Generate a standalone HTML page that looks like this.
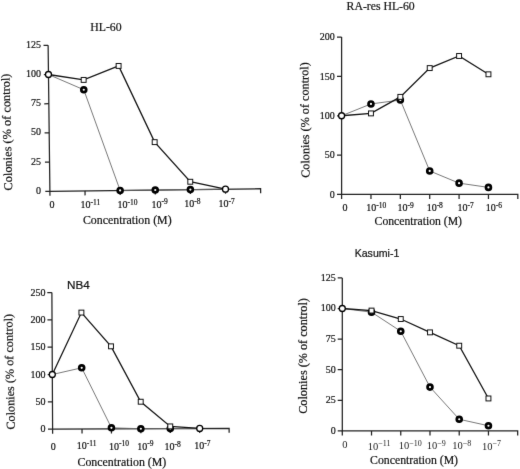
<!DOCTYPE html><html><head><meta charset="utf-8"><style>html,body{margin:0;padding:0;background:#fff;width:520px;height:469px;overflow:hidden}svg{display:block}.t{fill:#111;stroke:#111;stroke-width:0.2px}.t2{fill:#222}</style></head><body>
<svg width="520" height="469" viewBox="0 0 520 469">
<defs><filter id="b" filterUnits="userSpaceOnUse" x="0" y="0" width="520" height="469" color-interpolation-filters="sRGB"><feConvolveMatrix order="3" kernelMatrix="0.0052 0.0619 0.0052 0.0619 0.7314 0.0619 0.0052 0.0619 0.0052" edgeMode="duplicate"/></filter></defs><rect width="520" height="469" fill="#fff"/><g filter="url(#b)">
<g><path d="M48.12 45.31L49.9 191.3L260.6 188.73L260.66 193.23" fill="none" stroke="#222" stroke-width="1.25"/><path d="M45.3 191.36L49.9 191.3M44.94 162.16L49.54 162.1M44.59 132.96L49.19 132.9M44.23 103.76L48.83 103.71M43.87 74.56L48.47 74.51M43.52 45.37L48.12 45.31M49.9 191.3L49.95 195.8M85.02 190.87L85.07 195.37M120.13 190.44L120.19 194.94M155.25 190.01L155.31 194.51M190.37 189.58L190.42 194.08M225.49 189.15L225.54 193.65" fill="none" stroke="#222" stroke-width="1.25"/><text id="p1_y0" x="40.9" y="193.86" text-anchor="end" font-family='"Liberation Serif", serif' font-size="10" class="t">0</text><text id="p1_y25" x="40.9" y="164.66" text-anchor="end" font-family='"Liberation Serif", serif' font-size="10" class="t">25</text><text id="p1_y50" x="40.9" y="135.46" text-anchor="end" font-family='"Liberation Serif", serif' font-size="10" class="t">50</text><text id="p1_y75" x="40.9" y="106.26" text-anchor="end" font-family='"Liberation Serif", serif' font-size="10" class="t">75</text><text id="p1_y100" x="40.9" y="77.06" text-anchor="end" font-family='"Liberation Serif", serif' font-size="10" class="t">100</text><text id="p1_y125" x="40.9" y="47.86" text-anchor="end" font-family='"Liberation Serif", serif' font-size="10" class="t">125</text><text id="p1_x0" x="52.09" y="208.37" text-anchor="middle" font-family='"Liberation Serif", serif' font-size="10" class="t">0</text><text id="p1_x1" x="80.62" y="208.27" font-family='"Liberation Serif", serif' font-size="10" class="t">10<tspan font-size="7.5" dy="-3.3">-11</tspan></text><text id="p1_x2" x="117.42" y="208.06" font-family='"Liberation Serif", serif' font-size="10" class="t">10<tspan font-size="7.5" dy="-3.3">-10</tspan></text><text id="p1_x3" x="151.58" y="207.66" font-family='"Liberation Serif", serif' font-size="10" class="t">10<tspan font-size="7.5" dy="-3.3">-9</tspan></text><text id="p1_x4" x="184.19" y="207.39" font-family='"Liberation Serif", serif' font-size="10" class="t">10<tspan font-size="7.5" dy="-3.3">-8</tspan></text><text id="p1_x5" x="218.55" y="207.31" font-family='"Liberation Serif", serif' font-size="10" class="t">10<tspan font-size="7.5" dy="-3.3">-7</tspan></text><text id="p1_xl" x="82.95" y="223.8" font-family='"Liberation Serif", serif' font-size="12" class="t" textLength="88.66" lengthAdjust="spacingAndGlyphs">Concentration (M)</text><text id="p1_yl" transform="translate(10.86 131.97) rotate(-91.4)" text-anchor="middle" font-family='"Liberation Serif", serif' font-size="12" class="t" textLength="116.92" lengthAdjust="spacingAndGlyphs">Colonies (% of control)</text><text id="p1_t" x="90.24" y="31.48" font-family='"Liberation Serif", serif' font-size="12" class="t" textLength="31.4" lengthAdjust="spacingAndGlyphs">HL-60</text><polyline points="48.47,74.51 83.78,89.73 120.13,190.44 155.25,190.01 190.37,189.58 225.49,189.15" fill="none" stroke="#6a6a6a" stroke-width="0.9"/><polyline points="48.47,74.51 83.66,79.92 118.61,65.94 154.67,142.13 190.27,181.76 225.49,189.15" fill="none" stroke="#151515" stroke-width="1.3"/><circle cx="83.78" cy="89.73" r="2.45" fill="#fff" stroke="#000" stroke-width="2.7"/><circle cx="120.13" cy="190.44" r="2.45" fill="#fff" stroke="#000" stroke-width="2.7"/><circle cx="155.25" cy="190.01" r="2.45" fill="#fff" stroke="#000" stroke-width="2.7"/><circle cx="190.37" cy="189.58" r="2.45" fill="#fff" stroke="#000" stroke-width="2.7"/><rect x="81.21" y="77.47" width="4.9" height="4.9" fill="#fff" stroke="#111" stroke-width="1"/><rect x="116.16" y="63.49" width="4.9" height="4.9" fill="#fff" stroke="#111" stroke-width="1"/><rect x="152.22" y="139.68" width="4.9" height="4.9" fill="#fff" stroke="#111" stroke-width="1"/><rect x="187.82" y="179.31" width="4.9" height="4.9" fill="#fff" stroke="#111" stroke-width="1"/><circle cx="48.47" cy="74.51" r="3.0" fill="#fff" stroke="#000" stroke-width="1.3"/><circle cx="225.49" cy="189.15" r="3.0" fill="#fff" stroke="#000" stroke-width="1.3"/></g>
<g><path d="M341.6 37.1L341.6 194.4L517.82 194.4L517.82 198.9" fill="none" stroke="#222" stroke-width="1.25"/><path d="M337 194.4L341.6 194.4M337 155.08L341.6 155.08M337 115.75L341.6 115.75M337 76.43L341.6 76.43M337 37.1L341.6 37.1M341.6 194.4L341.6 198.9M370.97 194.4L370.97 198.9M400.34 194.4L400.34 198.9M429.71 194.4L429.71 198.9M459.08 194.4L459.08 198.9M488.45 194.4L488.45 198.9" fill="none" stroke="#222" stroke-width="1.25"/><text id="p2_y0" x="334.74" y="197.65" text-anchor="end" font-family='"Liberation Serif", serif' font-size="10" class="t">0</text><text id="p2_y50" x="334.74" y="158.33" text-anchor="end" font-family='"Liberation Serif", serif' font-size="10" class="t">50</text><text id="p2_y100" x="334.74" y="119" text-anchor="end" font-family='"Liberation Serif", serif' font-size="10" class="t">100</text><text id="p2_y150" x="334.74" y="79.68" text-anchor="end" font-family='"Liberation Serif", serif' font-size="10" class="t">150</text><text id="p2_y200" x="334.74" y="40.35" text-anchor="end" font-family='"Liberation Serif", serif' font-size="10" class="t">200</text><text id="p2_x0" x="345.12" y="210.97" text-anchor="middle" font-family='"Liberation Serif", serif' font-size="10" class="t">0</text><text id="p2_x1" x="366.33" y="211.45" font-family='"Liberation Serif", serif' font-size="10" class="t">10<tspan font-size="7.5" dy="-3.3">-10</tspan></text><text id="p2_x2" x="397.5" y="211.34" font-family='"Liberation Serif", serif' font-size="10" class="t">10<tspan font-size="7.5" dy="-3.3">-9</tspan></text><text id="p2_x3" x="426.64" y="211.28" font-family='"Liberation Serif", serif' font-size="10" class="t">10<tspan font-size="7.5" dy="-3.3">-8</tspan></text><text id="p2_x4" x="457.55" y="211.24" font-family='"Liberation Serif", serif' font-size="10" class="t">10<tspan font-size="7.5" dy="-3.3">-7</tspan></text><text id="p2_x5" x="485.7" y="211.3" font-family='"Liberation Serif", serif' font-size="10" class="t">10<tspan font-size="7.5" dy="-3.3">-6</tspan></text><text id="p2_xl" x="374.58" y="225.2" font-family='"Liberation Serif", serif' font-size="12" class="t" textLength="87.45" lengthAdjust="spacingAndGlyphs">Concentration (M)</text><text id="p2_yl" transform="translate(308.83 120.07) rotate(-90.6)" text-anchor="middle" font-family='"Liberation Serif", serif' font-size="12" class="t" textLength="115.56" lengthAdjust="spacingAndGlyphs">Colonies (% of control)</text><text id="p2_t" x="346.58" y="10.32" font-family='"Liberation Serif", serif' font-size="11.5" class="t" textLength="68.11" lengthAdjust="spacingAndGlyphs">RA-res HL-60</text><polyline points="341.6,115.75 370.97,103.95 400.34,100.02 429.71,170.96 459.08,183.15 488.45,187.4" fill="none" stroke="#6a6a6a" stroke-width="0.9"/><polyline points="341.6,115.75 370.97,113.39 400.34,96.87 429.71,68.09 459.08,55.98 488.45,74.3" fill="none" stroke="#151515" stroke-width="1.3"/><circle cx="370.97" cy="103.95" r="2.45" fill="#fff" stroke="#000" stroke-width="2.7"/><circle cx="400.34" cy="100.02" r="2.45" fill="#fff" stroke="#000" stroke-width="2.7"/><circle cx="429.71" cy="170.96" r="2.45" fill="#fff" stroke="#000" stroke-width="2.7"/><circle cx="459.08" cy="183.15" r="2.45" fill="#fff" stroke="#000" stroke-width="2.7"/><circle cx="488.45" cy="187.4" r="2.45" fill="#fff" stroke="#000" stroke-width="2.7"/><rect x="368.52" y="110.94" width="4.9" height="4.9" fill="#fff" stroke="#111" stroke-width="1"/><rect x="397.89" y="94.42" width="4.9" height="4.9" fill="#fff" stroke="#111" stroke-width="1"/><rect x="427.26" y="65.64" width="4.9" height="4.9" fill="#fff" stroke="#111" stroke-width="1"/><rect x="456.63" y="53.53" width="4.9" height="4.9" fill="#fff" stroke="#111" stroke-width="1"/><rect x="486" y="71.85" width="4.9" height="4.9" fill="#fff" stroke="#111" stroke-width="1"/><circle cx="341.6" cy="115.75" r="3.0" fill="#fff" stroke="#000" stroke-width="1.3"/></g>
<g><path d="M51.88 292.5L52.6 429.2L229.12 428.28L229.14 432.78" fill="none" stroke="#222" stroke-width="1.25"/><path d="M48 429.22L52.6 429.2M47.86 401.88L52.46 401.86M47.71 374.54L52.31 374.52M47.57 347.21L52.17 347.18M47.43 319.87L52.03 319.84M47.28 292.53L51.88 292.5M52.6 429.2L52.62 433.7M82.02 429.05L82.04 433.55M111.44 428.89L111.46 433.39M140.86 428.74L140.88 433.24M170.28 428.58L170.3 433.08M199.7 428.43L199.72 432.93" fill="none" stroke="#222" stroke-width="1.25"/><text id="p3_y0" x="45.52" y="432.37" text-anchor="end" font-family='"Liberation Serif", serif' font-size="10" class="t">0</text><text id="p3_y50" x="45.52" y="405.03" text-anchor="end" font-family='"Liberation Serif", serif' font-size="10" class="t">50</text><text id="p3_y100" x="45.52" y="377.69" text-anchor="end" font-family='"Liberation Serif", serif' font-size="10" class="t">100</text><text id="p3_y150" x="45.52" y="350.36" text-anchor="end" font-family='"Liberation Serif", serif' font-size="10" class="t">150</text><text id="p3_y200" x="45.52" y="323.01" text-anchor="end" font-family='"Liberation Serif", serif' font-size="10" class="t">200</text><text id="p3_y250" x="45.52" y="295.68" text-anchor="end" font-family='"Liberation Serif", serif' font-size="10" class="t">250</text><text id="p3_x0" x="53.21" y="449.59" text-anchor="middle" font-family='"Liberation Serif", serif' font-size="10" class="t">0</text><text id="p3_x1" x="76.68" y="449.44" font-family='"Liberation Serif", serif' font-size="10" class="t">10<tspan font-size="7.5" dy="-3.3">-11</tspan></text><text id="p3_x2" x="109.03" y="449.59" font-family='"Liberation Serif", serif' font-size="10" class="t">10<tspan font-size="7.5" dy="-3.3">-10</tspan></text><text id="p3_x3" x="137.33" y="449.75" font-family='"Liberation Serif", serif' font-size="10" class="t">10<tspan font-size="7.5" dy="-3.3">-9</tspan></text><text id="p3_x4" x="164.5" y="449.87" font-family='"Liberation Serif", serif' font-size="10" class="t">10<tspan font-size="7.5" dy="-3.3">-8</tspan></text><text id="p3_x5" x="194.26" y="449.47" font-family='"Liberation Serif", serif' font-size="10" class="t">10<tspan font-size="7.5" dy="-3.3">-7</tspan></text><text id="p3_xl" x="77.47" y="466" font-family='"Liberation Serif", serif' font-size="12" class="t" textLength="88.84" lengthAdjust="spacingAndGlyphs">Concentration (M)</text><text id="p3_yl" transform="translate(13.5 371.74) rotate(-91.36)" text-anchor="middle" font-family='"Liberation Serif", serif' font-size="12" class="t" textLength="115.72" lengthAdjust="spacingAndGlyphs">Colonies (% of control)</text><text id="p3_t" x="67.08" y="288.67" font-family='"Liberation Sans", sans-serif' font-size="11" class="t" textLength="22.79" lengthAdjust="spacingAndGlyphs">NB4</text><polyline points="52.31,374.52 81.7,367.81 111.43,427.8 140.86,428.74 170.28,428.58 199.7,428.43" fill="none" stroke="#6a6a6a" stroke-width="0.9"/><polyline points="52.31,374.52 81.41,312.58 111.01,346.33 140.72,401.73 170.27,426.4 199.7,428.43" fill="none" stroke="#151515" stroke-width="1.3"/><circle cx="81.7" cy="367.81" r="2.45" fill="#fff" stroke="#000" stroke-width="2.7"/><circle cx="111.43" cy="427.8" r="2.45" fill="#fff" stroke="#000" stroke-width="2.7"/><circle cx="140.86" cy="428.74" r="2.45" fill="#fff" stroke="#000" stroke-width="2.7"/><circle cx="170.28" cy="428.58" r="2.45" fill="#fff" stroke="#000" stroke-width="2.7"/><rect x="78.96" y="310.13" width="4.9" height="4.9" fill="#fff" stroke="#111" stroke-width="1"/><rect x="108.56" y="343.88" width="4.9" height="4.9" fill="#fff" stroke="#111" stroke-width="1"/><rect x="138.27" y="399.28" width="4.9" height="4.9" fill="#fff" stroke="#111" stroke-width="1"/><rect x="167.82" y="423.95" width="4.9" height="4.9" fill="#fff" stroke="#111" stroke-width="1"/><circle cx="52.31" cy="374.52" r="3.0" fill="#fff" stroke="#000" stroke-width="1.3"/><circle cx="199.7" cy="428.43" r="3.0" fill="#fff" stroke="#000" stroke-width="1.3"/></g>
<g><path d="M342.3 277.9L342.3 430.9L517.68 430.9L517.68 435.4" fill="none" stroke="#222" stroke-width="1.25"/><path d="M337.7 430.9L342.3 430.9M337.7 400.3L342.3 400.3M337.7 369.7L342.3 369.7M337.7 339.1L342.3 339.1M337.7 308.5L342.3 308.5M337.7 277.9L342.3 277.9M342.3 430.9L342.3 435.4M371.53 430.9L371.53 435.4M400.76 430.9L400.76 435.4M429.99 430.9L429.99 435.4M459.22 430.9L459.22 435.4M488.45 430.9L488.45 435.4" fill="none" stroke="#222" stroke-width="1.25"/><text id="p4_y0" x="335.79" y="433.73" text-anchor="end" font-family='"Liberation Serif", serif' font-size="10" class="t">0</text><text id="p4_y25" x="335.79" y="403.13" text-anchor="end" font-family='"Liberation Serif", serif' font-size="10" class="t">25</text><text id="p4_y50" x="335.79" y="372.53" text-anchor="end" font-family='"Liberation Serif", serif' font-size="10" class="t">50</text><text id="p4_y75" x="335.79" y="341.93" text-anchor="end" font-family='"Liberation Serif", serif' font-size="10" class="t">75</text><text id="p4_y100" x="335.79" y="311.33" text-anchor="end" font-family='"Liberation Serif", serif' font-size="10" class="t">100</text><text id="p4_y125" x="335.79" y="280.73" text-anchor="end" font-family='"Liberation Serif", serif' font-size="10" class="t">125</text><text id="p4_x0" x="344.98" y="448.12" text-anchor="middle" font-family='"Liberation Serif", serif' font-size="10.5" class="t2">0</text><text id="p4_x1" x="367.68" y="449.6" font-family='"Liberation Serif", serif' font-size="10.5" class="t2">10<tspan font-size="8" dy="-3.5">−11</tspan></text><text id="p4_x2" x="398.63" y="449.46" font-family='"Liberation Serif", serif' font-size="10.5" class="t2">10<tspan font-size="8" dy="-3.5">−10</tspan></text><text id="p4_x3" x="426.63" y="449.46" font-family='"Liberation Serif", serif' font-size="10.5" class="t2">10<tspan font-size="8" dy="-3.5">−9</tspan></text><text id="p4_x4" x="452.31" y="449.46" font-family='"Liberation Serif", serif' font-size="10.5" class="t2">10<tspan font-size="8" dy="-3.5">−8</tspan></text><text id="p4_x5" x="481.93" y="449.69" font-family='"Liberation Serif", serif' font-size="10.5" class="t2">10<tspan font-size="8" dy="-3.5">−7</tspan></text><text id="p4_xl" x="370.09" y="464.2" font-family='"Liberation Serif", serif' font-size="12" class="t" textLength="87.97" lengthAdjust="spacingAndGlyphs">Concentration (M)</text><text id="p4_yl" transform="translate(307.3 355.97) rotate(-90)" text-anchor="middle" font-family='"Liberation Serif", serif' font-size="12" class="t" textLength="115.63" lengthAdjust="spacingAndGlyphs">Colonies (% of control)</text><text id="p4_t" x="354.7" y="256.89" font-family='"Liberation Sans", sans-serif' font-size="11" class="t" textLength="44.64" lengthAdjust="spacingAndGlyphs">Kasumi-1</text><polyline points="342.3,308.5 371.53,312.17 400.76,331.27 429.99,387.08 459.22,419.27 488.45,425.76" fill="none" stroke="#6a6a6a" stroke-width="0.9"/><polyline points="342.3,308.5 371.53,310.58 400.76,319.03 429.99,332.37 459.22,345.71 488.45,398.46" fill="none" stroke="#151515" stroke-width="1.3"/><circle cx="371.53" cy="312.17" r="2.45" fill="#fff" stroke="#000" stroke-width="2.7"/><circle cx="400.76" cy="331.27" r="2.45" fill="#fff" stroke="#000" stroke-width="2.7"/><circle cx="429.99" cy="387.08" r="2.45" fill="#fff" stroke="#000" stroke-width="2.7"/><circle cx="459.22" cy="419.27" r="2.45" fill="#fff" stroke="#000" stroke-width="2.7"/><circle cx="488.45" cy="425.76" r="2.45" fill="#fff" stroke="#000" stroke-width="2.7"/><rect x="369.08" y="308.13" width="4.9" height="4.9" fill="#fff" stroke="#111" stroke-width="1"/><rect x="398.31" y="316.58" width="4.9" height="4.9" fill="#fff" stroke="#111" stroke-width="1"/><rect x="427.54" y="329.92" width="4.9" height="4.9" fill="#fff" stroke="#111" stroke-width="1"/><rect x="456.77" y="343.26" width="4.9" height="4.9" fill="#fff" stroke="#111" stroke-width="1"/><rect x="486" y="396.01" width="4.9" height="4.9" fill="#fff" stroke="#111" stroke-width="1"/><circle cx="342.3" cy="308.5" r="3.0" fill="#fff" stroke="#000" stroke-width="1.3"/></g>
</g></svg></body></html>
